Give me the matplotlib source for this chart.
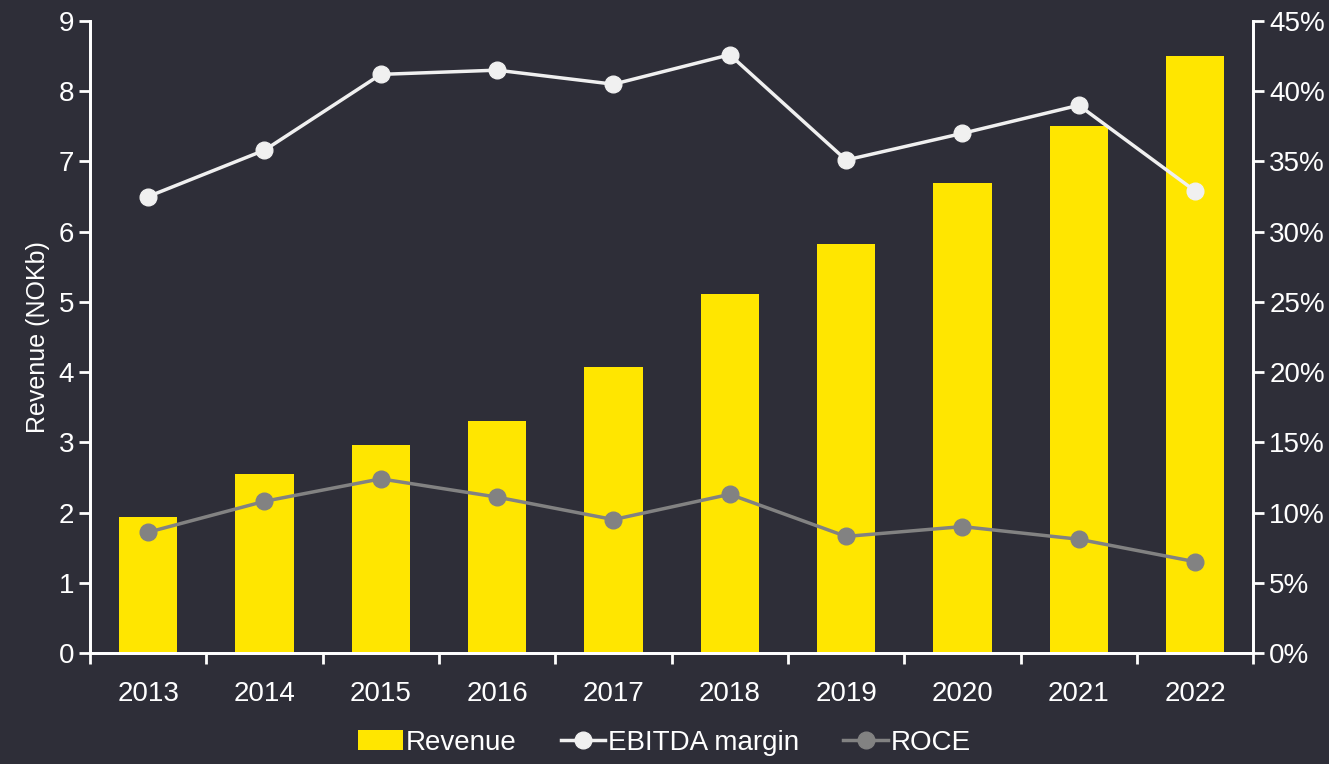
import matplotlib.pyplot as plt
from matplotlib.ticker import FuncFormatter

plt.rcParams['font.family'] = ['Liberation Sans Narrow', 'Liberation Sans', 'DejaVu Sans']

years = ['2013', '2014', '2015', '2016', '2017', '2018', '2019', '2020', '2021', '2022']
revenue = [1.94, 2.55, 2.96, 3.30, 4.07, 5.11, 5.83, 6.70, 7.51, 8.50]
ebitda_margin = [32.5, 35.8, 41.2, 41.5, 40.5, 42.6, 35.1, 37.0, 39.0, 32.9]
roce = [8.6, 10.8, 12.4, 11.1, 9.5, 11.3, 8.3, 9.0, 8.1, 6.5]

BG = '#2e2e38'
YELLOW = '#ffe600'
WHITE = '#f0f0f0'
GREY = '#828282'

fig = plt.figure(figsize=(13.29, 7.64), dpi=100, facecolor=BG)
ax = fig.add_axes([0.0677, 0.1453, 0.8753, 0.8272], facecolor=BG)
ax2 = ax.twinx()

x = list(range(len(years)))
bars = ax.bar(x, revenue, width=0.5, color=YELLOW, label='Revenue', zorder=2)
l1, = ax2.plot(x, ebitda_margin, color=WHITE, lw=2.5, marker='o', ms=12,
               label='EBITDA margin', zorder=3)
l2, = ax2.plot(x, roce, color=GREY, lw=2.5, marker='o', ms=12,
               label='ROCE', zorder=3)

ax.set_xlim(-0.5, len(years) - 0.5)
ax.set_ylim(0, 9)
ax2.set_ylim(0, 45)
ax.set_yticks(range(0, 10))
ax2.set_yticks(range(0, 50, 5))
ax2.yaxis.set_major_formatter(FuncFormatter(lambda v, p: f'{v:.0f}%'))

# category labels in the middle, tick marks on the boundaries
ax.set_xticks([i - 0.5 for i in range(len(years) + 1)])
ax.set_xticklabels([])
ax.set_xticks(x, minor=True)
ax.set_xticklabels(years, minor=True)

ax.set_ylabel('Revenue (NOKb)', color='white', fontsize=18, labelpad=6)

for a in (ax, ax2):
    a.tick_params(colors='white', labelsize=20, width=2, length=8)
    a.spines['top'].set_visible(False)
    for side in ('left', 'right', 'bottom'):
        a.spines[side].set_color('white')
        a.spines[side].set_linewidth(2)
ax.tick_params(axis='x', which='both', labelsize=20, colors='white')
ax.tick_params(axis='x', which='major', length=8, width=2)
ax.tick_params(axis='x', which='minor', length=0, pad=20)

fig.legend(handles=[bars, l1, l2], loc='lower center', ncol=3,
           bbox_to_anchor=(0.5, -0.022), frameon=False, fontsize=20,
           handlelength=1.6, handletextpad=0.1, columnspacing=1.6,
           labelcolor='white')

fig.savefig('out.png', dpi=100, facecolor=BG)
